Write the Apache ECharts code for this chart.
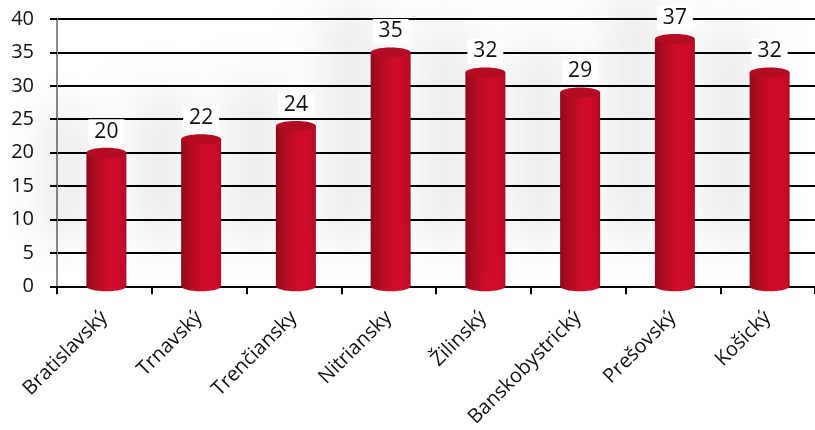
<!DOCTYPE html>
<html>
<head>
<meta charset="utf-8">
<script src="https://cdn.jsdelivr.net/npm/echarts@6/dist/echarts.min.js"></script>
<style>
  html, body { margin: 0; padding: 0; background: #ffffff; }
  #chart { width: 815px; height: 430px; }
</style>
</head>
<body>
<div id="chart"></div>
<script>
const categories = ['Bratislavský', 'Trnavský', 'Trenčiansky', 'Nitriansky', 'Žilinský', 'Banskobystrický', 'Prešovský', 'Košický'];
const values = [20, 22, 24, 35, 32, 29, 37, 32];
const yTicks = { min: 0, max: 40, interval: 5 };

const FONT = '"Open Sans", "Noto Sans", sans-serif';
const chart = echarts.init(document.getElementById('chart'), null, { renderer: 'canvas' });

function bodyGradient() {
  return new echarts.graphic.LinearGradient(0, 0, 1, 0, [
    { offset: 0, color: '#8e0a1c' },
    { offset: 0.12, color: '#a30c20' },
    { offset: 0.3, color: '#b80c25' },
    { offset: 0.55, color: '#cf0b2c' },
    { offset: 0.8, color: '#d00a2c' },
    { offset: 0.95, color: '#c10b28' },
    { offset: 1, color: '#a80b22' }
  ]);
}

function renderItem(params, api) {
  const idx = api.value(0);
  const v = api.value(1);
  const top = api.coord([idx, v]);
  const base = api.coord([idx, 0]);
  const w = 40, rx = 20, ry = 5;
  const cx = top[0] + 2;
  const h = base[1] - top[1];
  const OFF = 3000;
  return {
    type: 'group',
    children: [
      {
        type: 'rect',
        shape: { x: cx - rx - OFF, y: top[1], width: w + 10, height: h },
        style: {
          fill: '#000',
          shadowColor: 'rgba(0,0,0,0.08)',
          shadowBlur: 40,
          shadowOffsetX: OFF - 45,
          shadowOffsetY: -45
        },
        silent: true
      },
      {
        type: 'ellipse',
        shape: { cx: cx, cy: base[1], rx: rx, ry: ry },
        style: { fill: bodyGradient() }
      },
      {
        type: 'rect',
        shape: { x: cx - rx, y: top[1], width: w, height: h },
        style: { fill: bodyGradient() }
      },
      {
        type: 'ellipse',
        shape: { cx: cx, cy: top[1], rx: rx, ry: ry },
        style: { fill: '#b50c25' }
      },
      {
        type: 'text',
        style: {
          text: String(v),
          x: cx,
          y: top[1] - 21,
          align: 'center',
          verticalAlign: 'middle',
          font: '21px ' + FONT,
          fill: '#111',
          backgroundColor: '#ffffff',
          padding: [2, 6]
        },
        z2: 10
      }
    ]
  };
}

chart.setOption({
  animation: false,
  backgroundColor: '#ffffff',
  grid: { left: 57, top: 19, height: 270, right: -10, containLabel: false },
  xAxis: {
    type: 'category',
    data: categories,
    boundaryGap: true,
    axisLine: { show: true, lineStyle: { color: '#000', width: 2 } },
    axisTick: { show: true, length: 8, lineStyle: { color: '#000', width: 2 } },
    axisLabel: {
      rotate: 45,
      margin: 28,
      fontSize: 20,
      fontFamily: FONT,
      color: '#111',
      interval: 0
    }
  },
  yAxis: {
    type: 'value',
    min: yTicks.min,
    max: yTicks.max,
    interval: yTicks.interval,
    axisLine: { show: true, lineStyle: { color: '#8a8a8a', width: 2 } },
    axisTick: { show: true, length: 7, lineStyle: { color: '#000', width: 2 } },
    splitLine: { show: true, lineStyle: { color: '#000', width: 2 } },
    axisLabel: { margin: 23, fontSize: 20, fontFamily: FONT, color: '#111' }
  },
  series: [{
    type: 'custom',
    renderItem: renderItem,
    data: values.map((v, i) => [i, v]),
    encode: { x: 0, y: 1 },
    clip: false,
    z: 5
  }]
});
</script>
</body>
</html>
